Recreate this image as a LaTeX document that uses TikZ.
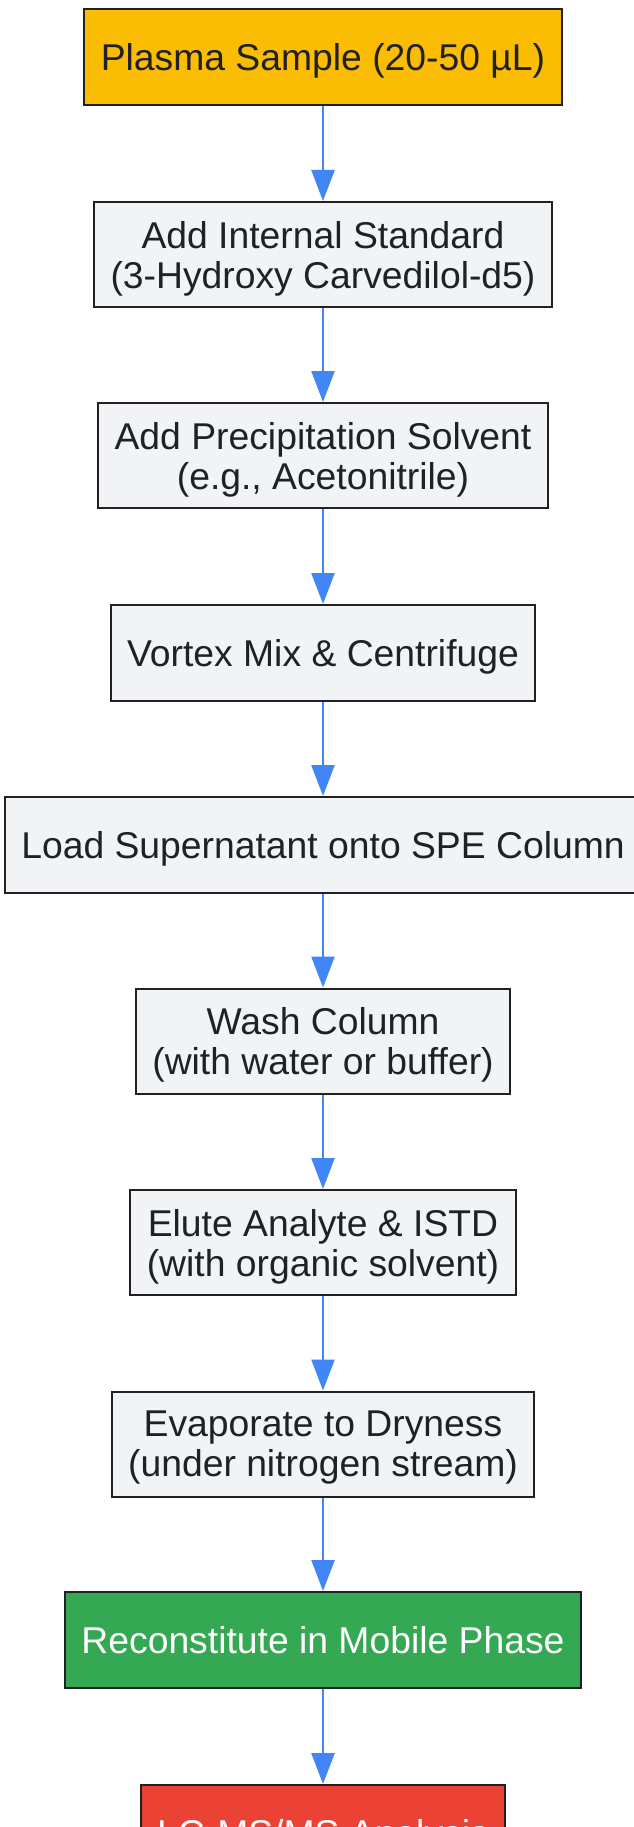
\documentclass[tikz,border=0pt]{standalone}
\usepackage{fontspec}
\setmainfont{Liberation Sans}
\usetikzlibrary{arrows.meta}
\definecolor{flowblue}{HTML}{4285F4}
\definecolor{stepgray}{HTML}{F1F3F4}
\definecolor{startyellow}{HTML}{FBBC04}
\definecolor{recongreen}{HTML}{34A853}
\definecolor{analysisred}{HTML}{EA4335}
\definecolor{inktext}{HTML}{202124}
\tikzset{
	stepbox/.style={draw=inktext,line width=2pt,fill=stepgray,text=inktext,
		inner xsep=16.5pt,minimum height=96pt,align=center,text depth=0pt,
		font=\fontsize{37.3}{40}\selectfont},
	twoline/.style={stepbox,minimum height=105pt},
	flowarrow/.style={draw=flowblue,line width=2.5pt,-{Triangle[length=31pt,width=23pt]}}
}

\begin{document}
\begin{tikzpicture}[x=1pt,y=-1pt]
	\useasboundingbox[fill=white] (0,0) rectangle (633,1827);
	\node[stepbox,fill=startyellow] (plasma) at (323,57) {Plasma Sample (20-50 µL)};
	\node[twoline] (istd) at (323,254.5) {Add Internal Standard\\(3-Hydroxy Carvedilol-d5)};
	\node[twoline] (precip) at (323,455.5) {Add Precipitation Solvent\\(e.g., Acetonitrile)};
	\node[stepbox] (vortex) at (323,653) {Vortex Mix \& Centrifuge};
	\node[stepbox] (load) at (323,845) {Load Supernatant onto SPE Column};
	\node[twoline] (wash) at (323,1041) {Wash Column\\(with water or buffer)};
	\node[twoline] (elute) at (323,1242.5) {Elute Analyte \& ISTD\\(with organic solvent)};
	\node[twoline] (evap) at (323,1444) {Evaporate to Dryness\\(under nitrogen stream)};
	\node[stepbox,fill=recongreen,text=white] (recon) at (323,1640) {Reconstitute in Mobile Phase};
	\node[stepbox,fill=analysisred,text=white] (lcms) at (323,1833) {LC-MS/MS Analysis};
	\draw[flowarrow] (plasma) -- (istd);
	\draw[flowarrow] (istd) -- (precip);
	\draw[flowarrow] (precip) -- (vortex);
	\draw[flowarrow] (vortex) -- (load);
	\draw[flowarrow] (load) -- (wash);
	\draw[flowarrow] (wash) -- (elute);
	\draw[flowarrow] (elute) -- (evap);
	\draw[flowarrow] (evap) -- (recon);
	\draw[flowarrow] (recon) -- (lcms);
\end{tikzpicture}
\end{document}
